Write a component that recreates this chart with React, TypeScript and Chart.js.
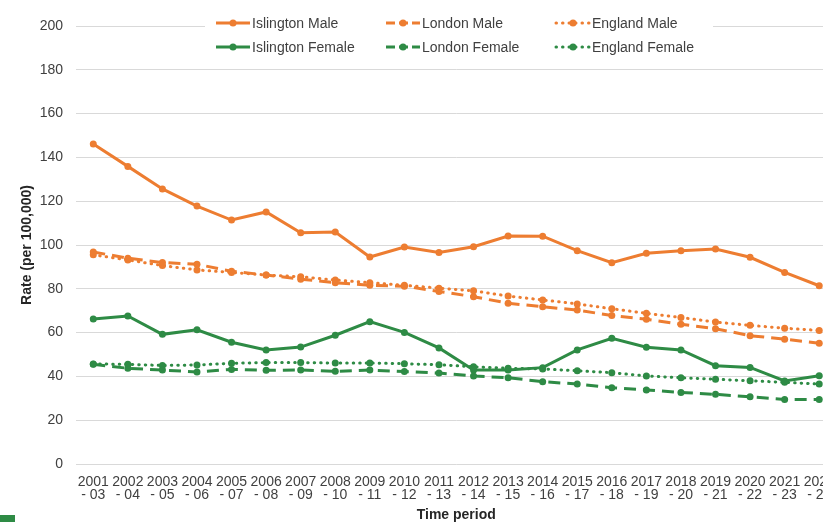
import React, { useEffect, useRef } from 'react';
import { Chart, registerables } from 'chart.js';

Chart.register(...registerables);

const periods = [
  '2001 - 03', '2002 - 04', '2003 - 05', '2004 - 06', '2005 - 07', '2006 - 08',
  '2007 - 09', '2008 - 10', '2009 - 11', '2010 - 12', '2011 - 13', '2012 - 14',
  '2013 - 15', '2014 - 16', '2015 - 17', '2016 - 18', '2017 - 19', '2018 - 20',
  '2019 - 21', '2020 - 22', '2021 - 23', '2022 - 24',
];

const islingtonMale = [146.1, 135.9, 125.6, 117.8, 111.4, 115.1, 105.6, 105.9, 94.5, 99.1, 96.6, 99.2, 104.1, 104.0, 97.4, 91.9, 96.2, 97.4, 98.2, 94.4, 87.5, 81.4];
const londonMale = [96.8, 94.0, 92.0, 91.2, 88.0, 86.3, 84.4, 82.8, 81.6, 81.2, 78.8, 76.4, 73.4, 71.8, 70.3, 67.8, 66.1, 63.8, 61.8, 58.6, 57.0, 55.1];
const englandMale = [95.5, 93.2, 90.6, 88.6, 87.5, 86.3, 85.5, 84.0, 82.8, 81.6, 80.3, 79.1, 76.7, 74.9, 73.1, 70.9, 68.8, 66.9, 64.8, 63.3, 62.0, 61.0];
const islingtonFemale = [66.2, 67.6, 59.2, 61.3, 55.6, 52.1, 53.4, 58.8, 65.0, 60.1, 53.0, 42.9, 42.9, 44.0, 52.1, 57.4, 53.3, 52.1, 44.9, 44.1, 37.9, 40.3];
const londonFemale = [45.5, 43.7, 42.9, 42.0, 43.2, 42.8, 42.9, 42.3, 42.9, 42.2, 41.5, 40.2, 39.4, 37.6, 36.5, 34.8, 33.8, 32.7, 31.8, 30.7, 29.5, 29.5];
const englandFemale = [45.7, 45.5, 45.0, 45.2, 46.0, 46.3, 46.3, 46.1, 46.1, 45.8, 45.3, 44.4, 43.7, 43.4, 42.6, 41.7, 40.2, 39.4, 38.7, 38.0, 37.3, 36.5];

const ORANGE = '#ED7D31';
const GREEN = '#2E8B45';
const SOLID: number[] = [];
const DASHED = [12, 7];
const DOTTED = [0.5, 6];

const TEXT = '#404040';
const FONT = "'Liberation Sans', Arial, sans-serif";

function makeSet(label: string, data: number[], color: string, dash: number[]) {
  return {
    label,
    data,
    borderColor: color,
    backgroundColor: color,
    borderWidth: 3,
    borderDash: dash,
    borderCapStyle: dash === DOTTED ? 'round' : 'butt',
    pointRadius: 3.5,
    pointHoverRadius: 3.5,
    pointBorderWidth: 0,
    pointBackgroundColor: color,
    tension: 0,
    fill: false,
  };
}

const legendPlugin = {
  id: 'customLegend',
  afterDraw(chart: any) {
    const ctx = chart.ctx;
    ctx.save();
    ctx.fillStyle = '#ffffff';
    ctx.fillRect(205, 9, 508, 50);
    const cols = [216, 386, 556];
    const rows = [23, 47];
    chart.data.datasets.forEach((ds: any, i: number) => {
      const col = cols[Math.floor(i / 2)];
      const row = rows[i % 2];
      ctx.strokeStyle = ds.borderColor;
      ctx.lineWidth = 3;
      ctx.lineCap = ds.borderCapStyle;
      ctx.setLineDash(ds.borderDash === DASHED ? [9, 4] : ds.borderDash);
      ctx.beginPath();
      ctx.moveTo(col, row);
      ctx.lineTo(col + 34, row);
      ctx.stroke();
      ctx.setLineDash([]);
      ctx.fillStyle = ds.borderColor;
      ctx.beginPath();
      ctx.arc(col + 17, row, 3.5, 0, Math.PI * 2);
      ctx.fill();
      ctx.fillStyle = TEXT;
      ctx.font = `14px ${FONT}`;
      ctx.textBaseline = 'middle';
      ctx.textAlign = 'left';
      ctx.fillText(ds.label, col + 36, row + 1);
    });
    ctx.restore();
  },
};

export default function App() {
  const ref = useRef<HTMLCanvasElement | null>(null);

  useEffect(() => {
    if (!ref.current) return;
    const chart = new Chart(ref.current, {
      type: 'line',
      data: {
        labels: periods.map((p) => p.split(' - ').map((s, i) => (i === 0 ? s : '- ' + s))),
        datasets: [
          makeSet('Islington Male', islingtonMale, ORANGE, SOLID),
          makeSet('Islington Female', islingtonFemale, GREEN, SOLID),
          makeSet('London Male', londonMale, ORANGE, DASHED),
          makeSet('London Female', londonFemale, GREEN, DASHED),
          makeSet('England Male', englandMale, ORANGE, DOTTED),
          makeSet('England Female', englandFemale, GREEN, DOTTED),
        ] as any,
      },
      options: {
        animation: false,
        responsive: false,
        maintainAspectRatio: false,
        layout: { padding: { top: 26, right: 3, left: 0, bottom: 0 } },
        plugins: {
          legend: { display: false },
          title: { display: false },
          tooltip: { enabled: false },
        },
        scales: {
          x: {
            type: 'category',
            offset: true,
            grid: {
              display: true,
              drawOnChartArea: false,
              drawTicks: true,
              tickLength: 10,
              tickColor: 'rgba(0,0,0,0)',
            },
            border: { display: false },
            ticks: {
              autoSkip: false,
              maxRotation: 0,
              minRotation: 0,
              padding: 2,
              color: TEXT,
              font: { family: FONT, size: 14, lineHeight: 0.9 },
            },
            title: {
              display: true,
              text: 'Time period',
              color: '#262626',
              font: { family: FONT, size: 14, weight: 'bold', lineHeight: 1 },
              padding: { top: 0, bottom: 0 },
            },
            afterFit: (scale: any) => {
              scale.height = 58;
            },
          },
          y: {
            min: 0,
            max: 200,
            ticks: {
              stepSize: 20,
              padding: 13,
              color: TEXT,
              font: { family: FONT, size: 14 },
            },
            grid: { color: '#d9d9d9', lineWidth: 1, drawTicks: false },
            border: { display: false },
            title: {
              display: true,
              text: 'Rate (per 100,000)',
              color: '#262626',
              font: { family: FONT, size: 14, weight: 'bold', lineHeight: 1.2 },
              padding: { top: 18.6, bottom: 0 },
            },
            afterFit: (scale: any) => {
              scale.width = 76;
            },
          },
        },
      },
      plugins: [legendPlugin],
    });
    return () => chart.destroy();
  }, []);

  return (
    <div
      style={{
        position: 'fixed',
        left: 0,
        top: 0,
        width: 823,
        height: 522,
        overflow: 'hidden',
        background: '#ffffff',
      }}
    >
      <canvas ref={ref} width={840} height={522} style={{ width: 840, height: 522, display: 'block' }} />
      <div style={{ position: 'absolute', left: 0, top: 515, width: 15, height: 7, background: GREEN }} />
    </div>
  );
}
